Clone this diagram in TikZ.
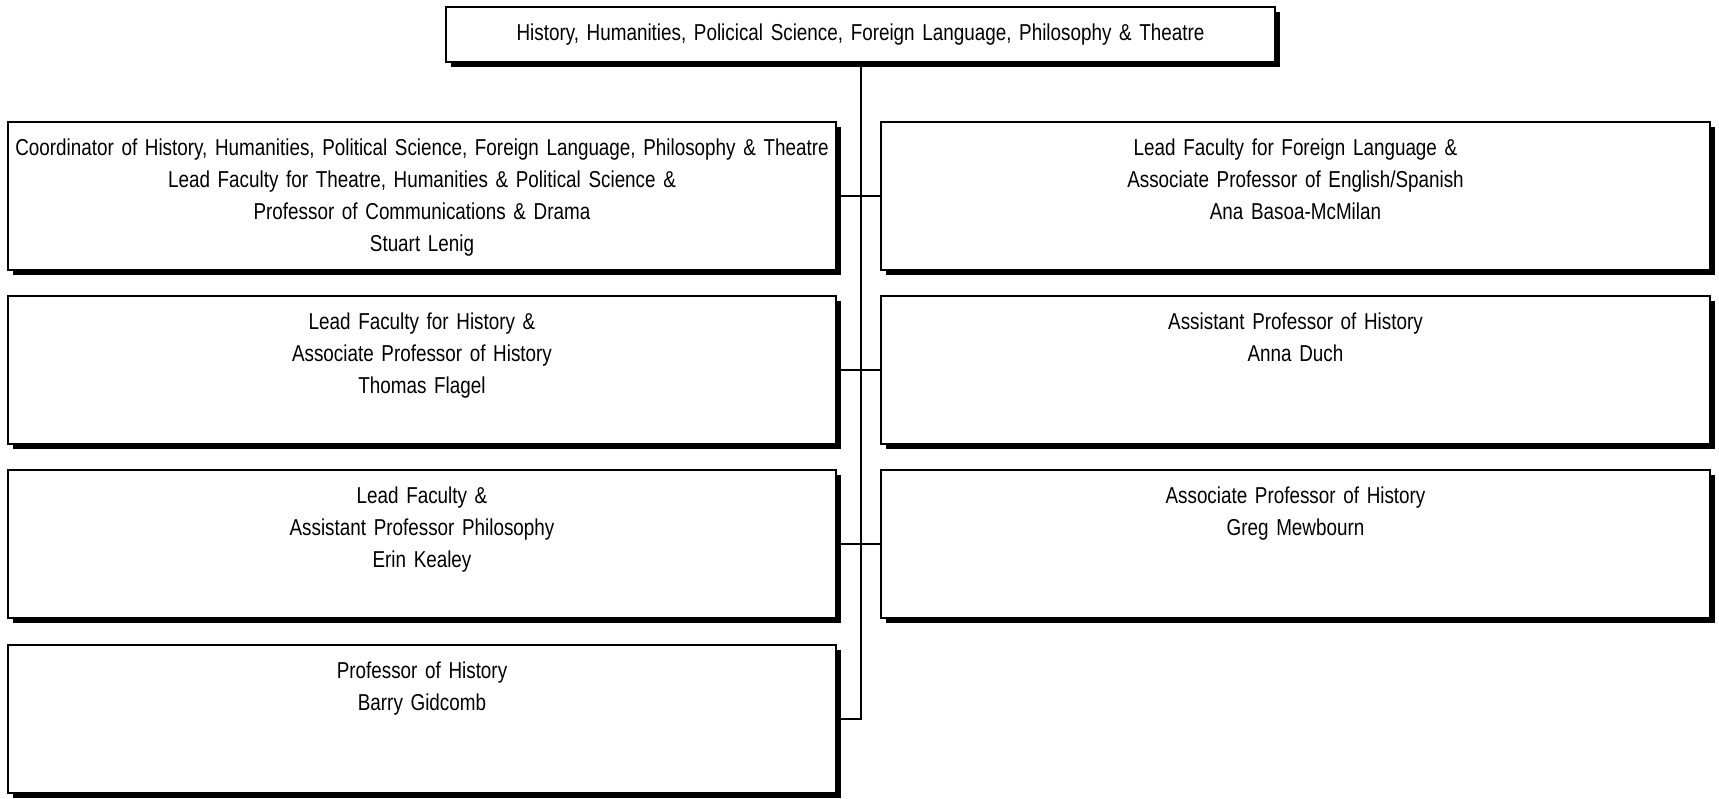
\documentclass[tikz,border=0pt]{standalone}
\usepackage{fontspec}
\setmainfont[FakeStretch=0.82,WordSpace=0.7]{Liberation Sans}
\usetikzlibrary{positioning,shadows}

\begin{document}
\begin{tikzpicture}[x=1pt,y=-1pt,
  orgbox/.style={draw,fill=white,line width=0.9pt,minimum width=414pt,minimum height=74pt,inner sep=0pt,
    drop shadow={shadow xshift=2.6pt,shadow yshift=-2.6pt,fill=black,opacity=1}},
  orgtext/.style={text width=413pt,align=center,inner sep=0pt,font=\fontsize{11.5}{16}\selectfont},
  link/.style={line width=1pt}]
  \useasboundingbox (0,0) rectangle (859.5,399);
  % department
  \node[orgbox,orgtext,minimum width=414.5pt,minimum height=27.5pt] (dept) at (430.25,17.25)
    {History, Humanities, Policical Science, Foreign Language, Philosophy \& Theatre};
  % left column
  \node[orgbox] (lenig) at (211,98) {};
  \node[orgbox] (flagel) at (211,185) {};
  \node[orgbox] (kealey) at (211,272) {};
  \node[orgbox] (gidcomb) at (211,359.5) {};
  % right column
  \node[orgbox,minimum width=414.5pt] (basoa) at (647.75,98) {};
  \node[orgbox,minimum width=414.5pt] (duch) at (647.75,185) {};
  \node[orgbox,minimum width=414.5pt] (mewbourn) at (647.75,272) {};
  % texts
  \node[orgtext,below=8.6pt of lenig.north] (lenigT) {Coordinator of History, Humanities, Political Science, Foreign Language, Philosophy \& Theatre\\
    Lead Faculty for Theatre, Humanities \& Political Science \&\\
    Professor of Communications \& Drama\\
    Stuart Lenig};
  \node[orgtext,below=8.6pt of flagel.north] (flagelT) {Lead Faculty for History \&\\
    Associate Professor of History\\
    Thomas Flagel};
  \node[orgtext,below=8.6pt of kealey.north] (kealeyT) {Lead Faculty \&\\
    Assistant Professor Philosophy\\
    Erin Kealey};
  \node[orgtext,below=8.6pt of gidcomb.north] (gidcombT) {Professor of History\\
    Barry Gidcomb};
  \node[orgtext,below=8.6pt of basoa.north] (basoaT) {Lead Faculty for Foreign Language \&\\
    Associate Professor of English/Spanish\\
    Ana Basoa-McMilan};
  \node[orgtext,below=8.6pt of duch.north] (duchT) {Assistant Professor of History\\
    Anna Duch};
  \node[orgtext,below=8.6pt of mewbourn.north] (mewbournT) {Associate Professor of History\\
    Greg Mewbourn};
  % connectors
  \draw[link] (dept.south) -- (dept.south |- gidcomb.east) -- (gidcomb.east);
  \draw[link] (lenig.east) -- (basoa.west);
  \draw[link] (flagel.east) -- (duch.west);
  \draw[link] (kealey.east) -- (mewbourn.west);
\end{tikzpicture}
\end{document}
